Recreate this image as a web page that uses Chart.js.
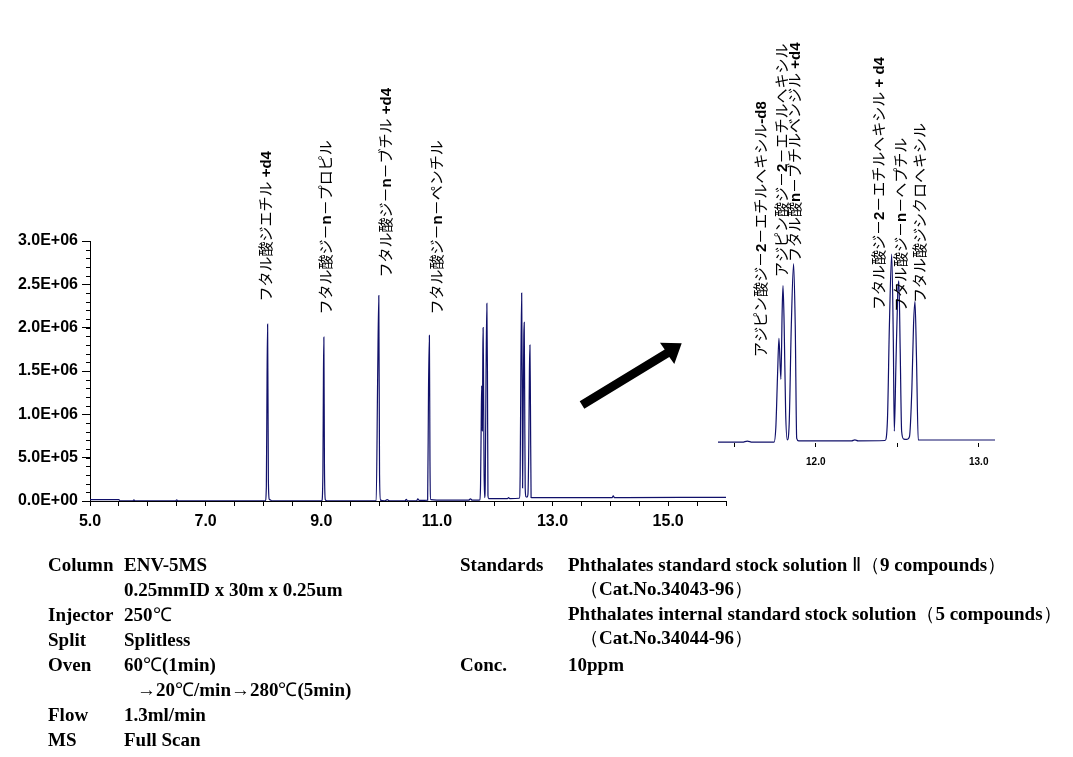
<!DOCTYPE html>
<html>
<head>
<meta charset="utf-8">
<script src="https://cdn.jsdelivr.net/npm/chart.js@4.4.1/dist/chart.umd.min.js"></script>
<style>
  body { margin: 0; background: #fff; }
  #page { position: relative; width: 1073px; height: 757px; overflow: hidden; }
  canvas { position: absolute; }
  #main { left: 0; top: 0; }
  #zoom { left: 700px; top: 30px; }
  #arrow { position: absolute; left: 0; top: 0; }
  .t { position: absolute; font: bold 19px "Liberation Serif", serif; line-height: 22px; white-space: nowrap; color: #000; }
  .n { font-weight: normal; }
</style>
</head>
<body>
<div id="page">
  <canvas id="main" width="740" height="545"></canvas>
  <canvas id="zoom" width="310" height="450"></canvas>
  <svg id="arrow" width="1073" height="757">
    <polygon fill="#000" points="579.7,401.2 664.7,349.5 660,342.7 681.7,343.3 674.3,364 669.3,357.1 584.3,408.8"/>
  </svg>

  <div class="t" style="left:48px;top:554px">Column</div>
  <div class="t" style="left:124px;top:554px">ENV-5MS</div>
  <div class="t" style="left:124px;top:579px">0.25mmID x 30m x 0.25um</div>
  <div class="t" style="left:48px;top:604px">Injector</div>
  <div class="t" style="left:124px;top:604px">250<span class="n">℃</span></div>
  <div class="t" style="left:48px;top:629px">Split</div>
  <div class="t" style="left:124px;top:629px">Splitless</div>
  <div class="t" style="left:48px;top:654px">Oven</div>
  <div class="t" style="left:124px;top:654px">60<span class="n">℃</span>(1min)</div>
  <div class="t" style="left:137px;top:679px">→20<span class="n">℃</span>/min→280<span class="n">℃</span>(5min)</div>
  <div class="t" style="left:48px;top:704px">Flow</div>
  <div class="t" style="left:124px;top:704px">1.3ml/min</div>
  <div class="t" style="left:48px;top:729px">MS</div>
  <div class="t" style="left:124px;top:729px">Full Scan</div>

  <div class="t" style="left:460px;top:554px">Standards</div>
  <div class="t" style="left:568px;top:554px">Phthalates standard stock solution <span class="n">Ⅱ（</span>9 compounds<span class="n">）</span></div>
  <div class="t" style="left:580px;top:578px"><span class="n">（</span>Cat.No.34043-96<span class="n">）</span></div>
  <div class="t" style="left:568px;top:603px">Phthalates internal standard stock solution<span class="n">（</span>5 compounds<span class="n">）</span></div>
  <div class="t" style="left:580px;top:627px"><span class="n">（</span>Cat.No.34044-96<span class="n">）</span></div>
  <div class="t" style="left:460px;top:654px">Conc.</div>
  <div class="t" style="left:568px;top:654px">10ppm</div>
</div>

<script>
// retention time (min) and intensity
var times = [
  5.00, 5.50, 5.52, 5.74, 5.76, 5.78, 6.48, 6.50, 6.52,
  8.030, 8.050, 8.062, 8.072, 8.085, 8.100, 8.120, 8.140,
  9.010, 9.028, 9.038, 9.045, 9.055, 9.070, 9.100,
  9.950, 9.975, 9.995, 10.008, 10.025, 10.10, 10.14, 10.18,
  10.45, 10.47, 10.49, 10.65, 10.67, 10.69,
  10.840, 10.855, 10.870, 10.880, 10.895, 11.00, 11.55, 11.58, 11.61, 11.70,
  11.744, 11.755, 11.766, 11.774, 11.786, 11.794, 11.799, 11.806, 11.815, 11.825,
  11.836, 11.850, 11.864, 11.874, 11.883, 11.895,
  12.22, 12.24, 12.26,
  12.425, 12.440, 12.452, 12.466, 12.476, 12.482, 12.492, 12.503, 12.510, 12.518, 12.527,
  12.540, 12.560, 12.575, 12.590, 12.600, 12.609, 12.618, 12.629, 12.65,
  14.03, 14.05, 14.07, 16.00
];
var counts = [
  15000, 15000, 2000, 2000, 12000, 2000, 2000, 12000, 2000,
  2000, 160000, 1400000, 2040000, 250000, 20000, 12000, 2000,
  2000, 320000, 1500000, 1890000, 400000, 15000, 2000,
  2000, 1420000, 2370000, 300000, 10000, 2000, 15000, 2000,
  2000, 20000, 2000, 2000, 25000, 8000,
  10000, 1300000, 1910000, 460000, 15000, 10000, 10000, 25000, 10000, 10000,
  12000, 200000, 900000, 1330000, 810000, 1700000, 2000000, 1500000, 400000, 40000,
  200000, 1500000, 2280000, 1500000, 60000, 28000,
  28000, 40000, 28000,
  32000, 300000, 1500000, 2400000, 1300000, 150000, 1000000, 1900000, 2060000, 1200000, 150000,
  50000, 45000, 80000, 700000, 1500000, 1800000, 1100000, 40000, 38000,
  40000, 60000, 40000, 42000
];

var xTickLabels = ['5.0', '7.0', '9.0', '11.0', '13.0', '15.0'];
var yTickLabels = ['0.0E+00', '5.0E+05', '1.0E+06', '1.5E+06', '2.0E+06', '2.5E+06', '3.0E+06'];
var zoomTickLabels = ['12.0', '13.0'];

var mainPeakNames = ['フタル酸ジエチル +d4', 'フタル酸ジ－n－プロピル', 'フタル酸ジ－n－ブチル +d4', 'フタル酸ジ－n－ペンチル'];
var mainPeakTimes = [8.072, 9.045, 9.995, 10.870];

var zoomPeakNames = ['アジピン酸ジ－2－エチルヘキシル-d8', 'アジピン酸ジ－2－エチルヘキシル', 'フタル酸n－ブチルベンジル +d4',
                     'フタル酸ジ－2－エチルヘキシル + d4', 'フタル酸ジ－n－ヘプチル', 'フタル酸ジシクロヘキシル'];
var zoomPeakTimes = [11.774, 11.799, 11.864, 12.466, 12.510, 12.609];

Chart.defaults.font.family = '"Liberation Sans", Arial, sans-serif';
Chart.defaults.color = '#000';

var trace = times.map(function (t, i) { return { x: t, y: counts[i] }; });

function pickLabel(list, v) {
  for (var i = 0; i < list.length; i++) {
    if (Math.abs(parseFloat(list[i]) - v) < 1e-6) return list[i];
  }
  return '';
}

// vertical label, reads bottom to top; ascii parts in bold
function drawLabel(ctx, text, x, y) {
  ctx.save();
  ctx.translate(x, y);
  ctx.rotate(-Math.PI / 2);
  ctx.fillStyle = '#000';
  ctx.textBaseline = 'alphabetic';
  var pos = 0;
  var runs = text.match(/[\x20-\x7e]+|[^\x20-\x7e]+/g);
  runs.forEach(function (r) {
    var ascii = /^[\x20-\x7e]/.test(r);
    ctx.font = ascii ? 'bold 15px "Liberation Sans"' : '15px "Noto Sans CJK JP"';
    ctx.fillText(r, pos, 5);
    pos += ctx.measureText(r).width;
  });
  ctx.restore();
}

var peakLabels = {
  id: 'peakLabels',
  afterDatasetsDraw: function (chart, args, opts) {
    var xs = chart.scales.x, ys = chart.scales.y;
    opts.names.forEach(function (name, i) {
      var t = opts.times[i];
      var idx = times.indexOf(t);
      var px = xs.getPixelForValue(t) + opts.dx[i];
      var py = ys.getPixelForValue(counts[idx]) - opts.gap[i];
      drawLabel(chart.ctx, name, px, py);
    });
  }
};

var minorTicks = {
  id: 'minorTicks',
  afterDraw: function (chart) {
    var ys = chart.scales.y, ctx = chart.ctx, x0 = chart.chartArea.left;
    ctx.save();
    ctx.strokeStyle = '#000';
    ctx.lineWidth = 1;
    ctx.beginPath();
    for (var i = 0; i <= 30; i++) {
      var py = Math.round(ys.getPixelForValue(i * 100000)) + 0.5;
      ctx.moveTo(x0 - 4, py);
      ctx.lineTo(x0, py);
    }
    ctx.stroke();
    ctx.restore();
  }
};

var lineSet = {
  data: trace,
  borderColor: '#10106a',
  borderWidth: 1.2,
  pointRadius: 0,
  cubicInterpolationMode: 'monotone',
  fill: false
};

new Chart(document.getElementById('main'), {
  type: 'line',
  data: { datasets: [lineSet] },
  options: {
    responsive: false,
    animation: false,
    events: [],
    layout: { padding: { left: 0, top: 241, right: 14, bottom: 0 } },
    plugins: {
      legend: { display: false },
      tooltip: { enabled: false },
      peakLabels: { names: mainPeakNames, times: mainPeakTimes, dx: [-1.6, 2, 7, 8], gap: [22.7, 22.7, 18, 21] }
    },
    scales: {
      x: {
        type: 'linear', min: 5, max: 16,
        afterFit: function (s) { s.height = 44; },
        border: { display: true, color: '#000', width: 1 },
        grid: { drawOnChartArea: false, drawTicks: true, tickLength: 5, color: '#000' },
        ticks: {
          stepSize: 0.5, autoSkip: false, maxRotation: 0, includeBounds: false, padding: 6,
          font: { size: 16, weight: 'bold' },
          callback: function (v) { return pickLabel(xTickLabels, v); }
        }
      },
      y: {
        min: 0, max: 3000000,
        afterFit: function (s) { s.width = 90; },
        border: { display: true, color: '#000', width: 1 },
        grid: { drawOnChartArea: false, drawTicks: true, tickLength: 8, color: '#000' },
        ticks: {
          stepSize: 500000, autoSkip: false, padding: 4,
          font: { size: 16, weight: 'bold' },
          callback: function (v) { return yTickLabels[Math.round(v / 500000)]; }
        }
      }
    }
  },
  plugins: [minorTicks, peakLabels]
});

new Chart(document.getElementById('zoom'), {
  type: 'line',
  data: { datasets: [Object.assign({}, lineSet)] },
  options: {
    responsive: false,
    animation: false,
    events: [],
    layout: { padding: { left: 18, top: 177, right: 15, bottom: 0 } },
    plugins: {
      legend: { display: false },
      tooltip: { enabled: false },
      peakLabels: { names: zoomPeakNames, times: zoomPeakTimes, dx: [-18, -1.5, 1.8, -13, 2, 5], gap: [-18.6, 8.7, 1.6, -55.8, -31, -1.6] }
    },
    scales: {
      x: {
        type: 'linear', min: 11.4, max: 13.1,
        afterFit: function (s) { s.height = 37; },
        border: { display: false },
        grid: { drawOnChartArea: false, drawTicks: true, tickLength: 4, color: '#000' },
        ticks: {
          stepSize: 0.5, autoSkip: false, maxRotation: 0, includeBounds: false, padding: 9,
          font: { size: 10, weight: 'bold' },
          callback: function (v) { return pickLabel(zoomTickLabels, v); }
        }
      },
      y: { display: false, min: 0, max: 3000000 }
    }
  },
  plugins: [peakLabels]
});
</script>
</body>
</html>
